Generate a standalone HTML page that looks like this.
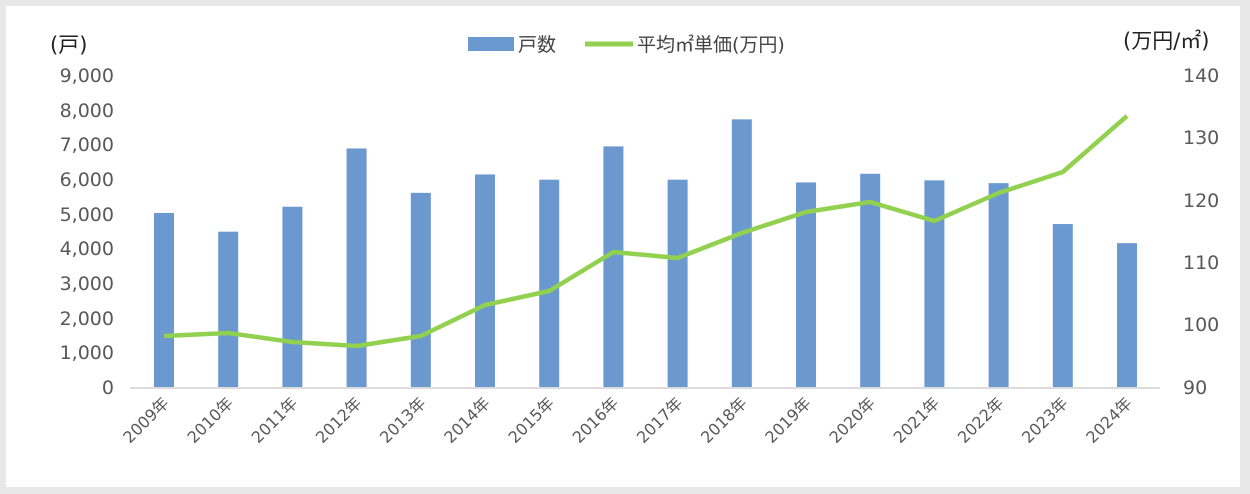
<!DOCTYPE html>
<html><head><meta charset="utf-8"><style>
html,body{margin:0;padding:0;background:#e8e8e8;}
svg{display:block;font-family:"DejaVu Sans","Noto Sans CJK JP",sans-serif;}
</style></head><body>
<svg width="1250" height="494" viewBox="0 0 1250 494">
<rect x="0" y="0" width="1250" height="494" fill="#e8e8e8"/>
<rect x="6" y="6" width="1234" height="481" fill="#fff"/>
<g font-size="19" fill="#595959" text-anchor="end">
<text x="114" y="82">9,000</text><text x="114" y="117">8,000</text><text x="114" y="151">7,000</text>
<text x="114" y="186">6,000</text><text x="114" y="221">5,000</text><text x="114" y="255">4,000</text>
<text x="114" y="290">3,000</text><text x="114" y="325">2,000</text><text x="114" y="359">1,000</text>
<text x="114" y="394">0</text>
</g>
<g font-size="19" fill="#595959" text-anchor="start">
<text x="1183" y="82">140</text><text x="1183" y="144">130</text><text x="1183" y="207">120</text>
<text x="1183" y="269">110</text><text x="1183" y="331">100</text><text x="1183" y="394">90</text>
</g>
<text x="50" y="52" font-size="21" fill="#222">(戸)</text>
<text x="1123" y="48" font-size="21" fill="#222">(万円/㎡)</text>
<rect x="468" y="37" width="46" height="14" fill="#6a98cf"/>
<text x="518" y="51" font-size="19" fill="#444">戸数</text>
<line x1="585" y1="44" x2="633" y2="44" stroke="#92d050" stroke-width="5"/>
<text x="637" y="51" font-size="19" fill="#444">平均㎡単価(万円)</text>
<g fill="#6a98cf" id="bars"></g>
<line x1="130" y1="388" x2="1160" y2="388" stroke="#d0d0d0" stroke-width="1.5"/>
<polyline id="ln" fill="none" stroke="#92d050" stroke-width="4.5" stroke-linejoin="round" points=""/>
<g id="lbl" font-size="16" fill="#595959" text-anchor="end"></g>
<script>
var b=[5020,4480,5200,6880,5600,6130,5980,6940,5980,7720,5900,6150,5960,5880,4700,4150];
var l=[336,333,342,346,336,305,291,252,258,233,212,202,221,193,172,116];
var g=document.getElementById('bars'),lb=document.getElementById('lbl'),pts=[];
var ns='http://www.w3.org/2000/svg';
for(var i=0;i<16;i++){var c=164+i*64.2;var h=b[i]*0.03467;
var r=document.createElementNS(ns,'rect');r.setAttribute('x',c-10);r.setAttribute('y',387-h);r.setAttribute('width',20);r.setAttribute('height',h);g.appendChild(r);
pts.push(c+','+l[i]);
var t=document.createElementNS(ns,'text');t.setAttribute('transform','translate('+(c+6)+',404) rotate(-45)');t.textContent=(2009+i)+'年';lb.appendChild(t);}
document.getElementById('ln').setAttribute('points',pts.join(' '));
</script>
</svg>
</body></html>
